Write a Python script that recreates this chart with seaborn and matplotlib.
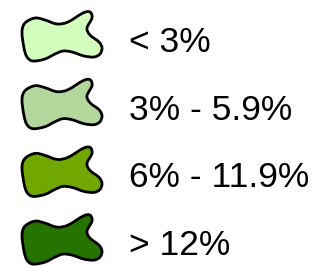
import numpy as np
import seaborn as sns
import matplotlib.pyplot as plt
from matplotlib.path import Path
from matplotlib.patches import PathPatch

labels = ["< 3%", "3% - 5.9%", "6% - 11.9%", "> 12%"]
colors = ["#D3FFBE", "#B4D79E", "#70A800", "#267300"]

# outline of the blob symbol, pixel offsets from its centre (y down)
blob = np.array([
    (-36, -14), (-26, -19), (-16, -17), (-4, -13), (7, -15), (22, -24),
    (29, -25), (31, -19), (26, -9), (29, -2), (38, 5), (41, 11),
    (39, 17), (33, 20), (23, 19), (11, 15), (2, 14), (-6, 17),
    (-16, 22), (-28, 24), (-34, 20), (-37, 11), (-39, -5),
])


def smooth_path(pts, cx, cy):
    # closed Catmull-Rom converted to cubic bezier segments
    p = pts + [cx, cy]
    n = len(p)
    verts = [p[0]]
    codes = [Path.MOVETO]
    for i in range(n):
        p0, p1, p2, p3 = p[i - 1], p[i], p[(i + 1) % n], p[(i + 2) % n]
        c1 = p1 + (p2 - p0) / 6
        c2 = p2 - (p3 - p1) / 6
        verts += [c1, c2, p2]
        codes += [Path.CURVE4] * 3
    return Path(verts, codes)


sns.set_style("white")
plt.rcParams["font.family"] = ["Liberation Sans", "DejaVu Sans"]

fig = plt.figure(figsize=(3.31, 2.66), dpi=100)
ax = fig.add_axes([0, 0, 1, 1])
ax.set_xlim(0, 331)
ax.set_ylim(266, 0)
ax.axis("off")

for i, (lab, col) in enumerate(zip(labels, colors)):
    cy = 37 + i * 67.7
    ax.add_patch(PathPatch(smooth_path(blob, 61, cy), facecolor=col,
                           edgecolor="black", lw=2, joinstyle="round"))
    ax.text(129, cy + 15, lab, fontsize=25.5, va="baseline", ha="left",
            color="black")

fig.savefig("out.png", dpi=100)
